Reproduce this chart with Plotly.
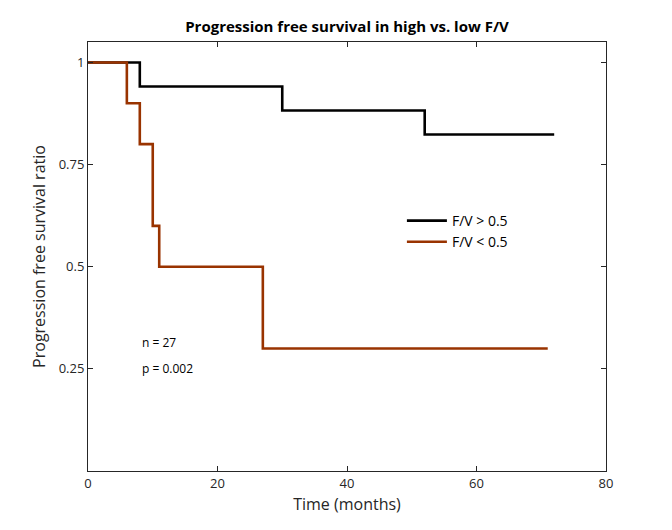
import plotly.graph_objects as go

# High F/V group (n=17)
high_time = [0, 8, 30, 52, 72]
high_surv = [1.0, 16/17, 15/17, 14/17, 14/17]
# Low F/V group (n=10)
low_time = [0, 6, 8, 10, 11, 27, 71]
low_surv = [1.0, 0.9, 0.8, 0.6, 0.5, 0.3, 0.3]

x_ticks = [0, 20, 40, 60, 80]
y_ticks = [0.25, 0.5, 0.75, 1]
y_tick_labels = ["0.25", "0.5", "0.75", "1"]

FONT = "Open Sans"

fig = go.Figure()
fig.add_trace(go.Scatter(x=high_time, y=high_surv, mode="lines", line_shape="hv",
                         line=dict(color="#000000", width=2.6), name="F/V > 0.5"))
fig.add_trace(go.Scatter(x=low_time, y=low_surv, mode="lines", line_shape="hv",
                         line=dict(color="#993300", width=2.6), name="F/V < 0.5"))

fig.add_annotation(x=8, y=0.315, text="n = 27", showarrow=False, xanchor="left",
                   font=dict(family=FONT, size=12, color="#000"))
fig.add_annotation(x=8, y=0.25, text="p = 0.002", showarrow=False, xanchor="left",
                   font=dict(family=FONT, size=12, color="#000"))

axis_common = dict(showline=True, linecolor="#262626", linewidth=1, mirror="ticks",
                   ticks="inside", ticklen=5, tickcolor="#262626", showgrid=False,
                   zeroline=False, tickfont=dict(family=FONT, size=13, color="#262626"))

fig.update_layout(
    width=672, height=530,
    margin=dict(l=80, r=74, t=34, b=67),
    paper_bgcolor="white", plot_bgcolor="white",
    title=dict(text="<b>Progression free survival in high vs. low F/V</b>",
               x=0.5, xanchor="center", xref="paper", y=0.964, yanchor="middle",
               font=dict(family=FONT, size=15, color="#000")),
    xaxis=dict(range=[0, 80], tickvals=x_ticks,
               title=dict(text="Time (months)", font=dict(family=FONT, size=16, color="#262626"), standoff=8),
               **axis_common),
    yaxis=dict(range=[0, 1.05], tickvals=y_ticks, ticktext=y_tick_labels,
               title=dict(text="Progression free survival ratio", font=dict(family=FONT, size=16, color="#262626"), standoff=9),
               **axis_common),
    legend=dict(x=0.606, y=0.62, xanchor="left", yanchor="top", bgcolor="rgba(0,0,0,0)",
                font=dict(family=FONT, size=14, color="#000"), tracegroupgap=0, itemwidth=40),
    showlegend=True,
)

fig.write_html("out.html")
